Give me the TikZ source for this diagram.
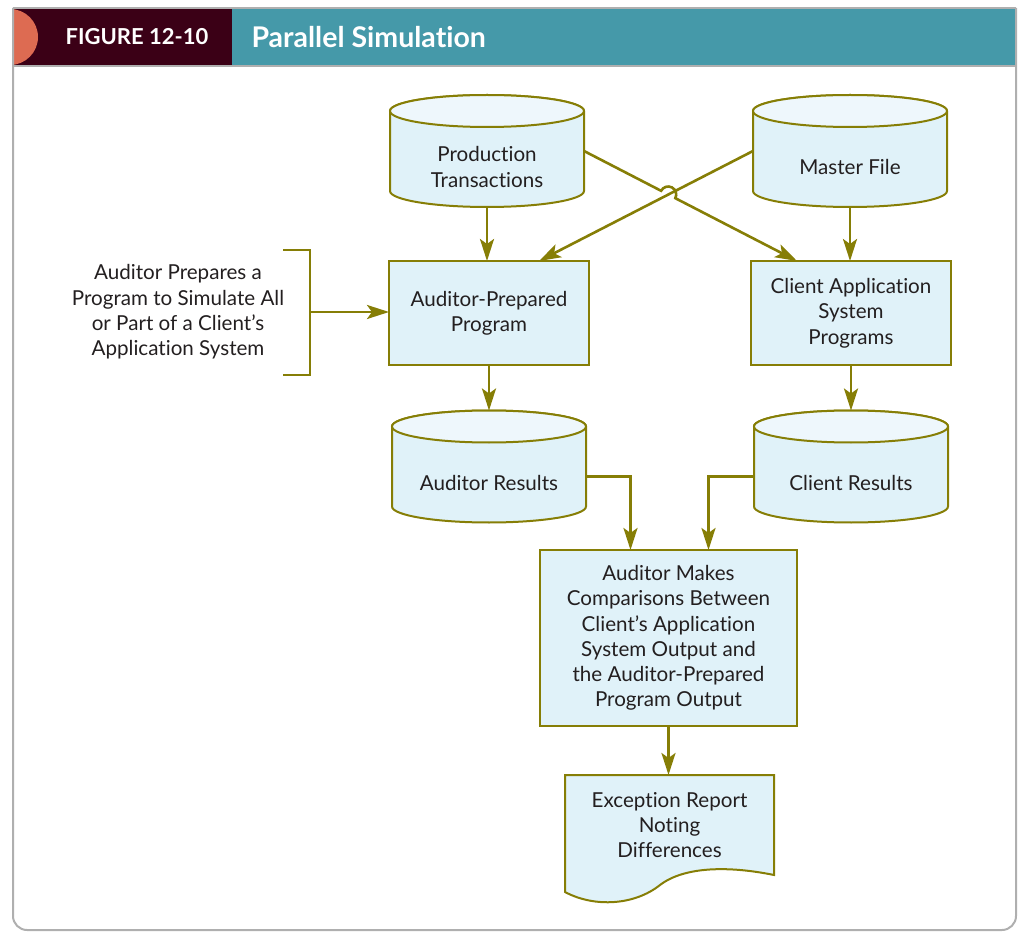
\documentclass[tikz,border=0pt]{standalone}
\usepackage{fontspec}
\setmainfont{Lato}[Ligatures=NoCommon]
\usetikzlibrary{arrows.meta,backgrounds,calc}

\definecolor{flowline}{RGB}{134,126,6}
\definecolor{boxfill}{RGB}{224,242,249}
\definecolor{capfill}{RGB}{238,247,252}
\definecolor{figmaroon}{RGB}{59,0,22}
\definecolor{figorange}{RGB}{221,107,82}
\definecolor{figteal}{RGB}{69,153,169}
\definecolor{inktext}{RGB}{35,31,32}
\definecolor{framegray}{RGB}{175,175,175}

\newcommand{\diskfile}[1]{%
  \draw[shapeline,fill=boxfill] ([yshift=16pt]#1.north west) -- ([yshift=16pt]#1.south west)
    arc[start angle=180,end angle=360,x radius=97pt,y radius=16pt]
    -- ([yshift=16pt]#1.north east)
    arc[start angle=0,end angle=180,x radius=97pt,y radius=16pt] -- cycle;
  \draw[shapeline,fill=capfill] ([yshift=16pt]#1.north) ellipse[x radius=97pt,y radius=16pt];}

\begin{document}
\begin{tikzpicture}[x=1pt,y=-1pt,
    txt/.style={text=inktext,font=\fontsize{20.6}{25.3}\selectfont,align=center,inner sep=0pt,outer sep=0pt},
    procbox/.style={txt,draw=flowline,fill=boxfill,line width=2pt,minimum width=200pt,minimum height=104pt},
    disk/.style={txt,minimum width=194pt,minimum height=80pt},
    shapeline/.style={draw=flowline,line width=2pt},
    flow/.style={draw=flowline,line width=2.6pt,-{Stealth[length=22pt,width=14pt,inset=5pt]}}]
\useasboundingbox (0,0) rectangle (1018,933);
\fill[figteal] (232,9) rectangle (1016,65);
\fill[figmaroon] (13,9) rectangle (232,65);
\begin{scope}
  \clip (13,9) rectangle (60,65);
  \fill[figorange] (10,37) circle[radius=28pt];
\end{scope}
\draw[framegray,line width=2pt] (13,8) -- (1016,8);
\draw[framegray,line width=1.5pt] (13,66) -- (1016,66);
\draw[framegray,line width=2pt,rounded corners=14pt] (13,8) -- (13,930) -- (1016,930) -- (1016,8);
\node[text=white,font=\fontsize{22}{24}\selectfont\bfseries] (fignum) at (137,37) {FIGURE 12-10};
\node[text=white,font=\fontsize{28.5}{30}\selectfont\bfseries,anchor=west] (figtitle) at (248,37) {Parallel Simulation};

\node[disk] (prod) at (487,167) {Production\\Transactions};
\node[disk] (mfile) at (850,167) {Master File};
\node[procbox] (aprog) at (489,313) {Auditor-Prepared\\Program};
\node[procbox] (cprog) at (851,313) {Client Application\\System\\Programs};
\node[disk] (ares) at (489,482.5) {Auditor Results};
\node[disk] (cres) at (851,482.5) {Client Results};
\node[procbox,minimum width=257pt,minimum height=176pt] (compare) at (668.5,638) {Auditor Makes\\Comparisons Between\\Client’s Application\\System Output and\\the Auditor-Prepared\\Program Output};
\node[txt,minimum width=209pt,minimum height=100pt] (report) at (669.5,825) {Exception Report\\Noting\\Differences};
\node[txt] (note) at (178,312) {Auditor Prepares a\\Program to Simulate All\\or Part of a Client’s\\Application System};

\begin{scope}[on background layer]
  \diskfile{prod} \diskfile{mfile} \diskfile{ares} \diskfile{cres}
  \draw[shapeline,fill=boxfill] (report.north west) -- ([yshift=-17pt]report.south west)
    .. controls +(30pt,-16pt) and +(-25pt,-20pt) .. ([xshift=95pt,yshift=-10pt]report.south west)
    .. controls +(25pt,19pt) and +(-44pt,9pt) .. (report.south east) -- (report.north east) -- cycle;
\end{scope}

\draw[flow] (prod.south) -- (prod.south |- aprog.north);
\draw[flow] (mfile.south) -- (mfile.south |- cprog.north);
\coordinate (mfout) at ([yshift=16pt]mfile.west);
\coordinate (apin) at ([xshift=50pt]aprog.north);
\draw[flow] (mfout) -- (apin);
\coordinate (ptout) at ([yshift=16pt]prod.east);
\coordinate (cpin) at ([xshift=-54pt]cprog.north);
\draw[flow] (ptout) -- ($(ptout)!0.362!(cpin)$) arc[start angle=152.6,end angle=-27.4,radius=8pt] -- (cpin);
\draw[flow] (aprog.south) -- ([yshift=32pt]ares.north);
\draw[flow] (cprog.south) -- ([yshift=32pt]cres.north);
\draw[flow] ([yshift=6pt]ares.east) -| ([xshift=-38pt]compare.north);
\draw[flow] ([yshift=6pt]cres.west) -| ([xshift=40pt]compare.north);
\draw[flow] (compare.south) -- (compare.south |- report.north);
\draw[flowline,line width=2.6pt] (283,250) -- (310,250) -- (310,375) -- (283,375);
\coordinate (brace) at (310,312);
\draw[flow] (brace) -- (brace -| aprog.west);
\end{tikzpicture}
\end{document}
